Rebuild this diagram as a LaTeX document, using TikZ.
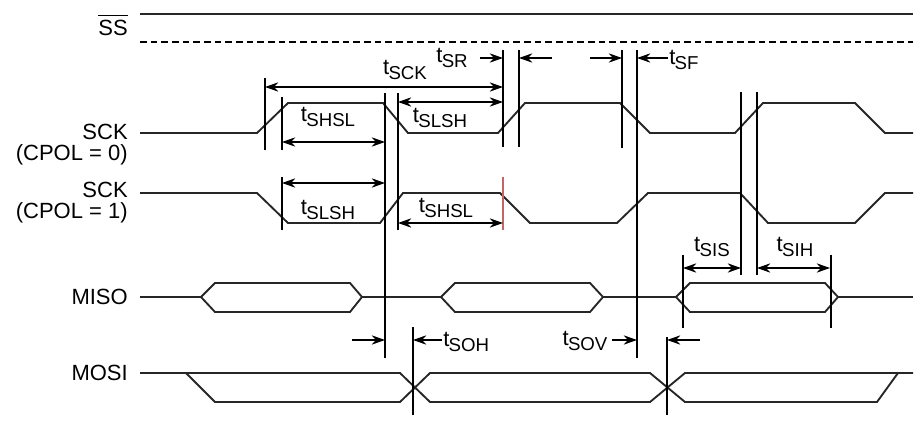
\documentclass[tikz,border=0pt]{standalone}
\usepackage{fontspec}
\setmainfont{Liberation Sans}
\usetikzlibrary{arrows.meta}
\newcommand\tsb[1]{t\kern-0.5pt\raisebox{-0.45ex}{\fontsize{14}{15}\selectfont #1}}
\begin{document}
\begin{tikzpicture}[x=0.75pt,y=-0.75pt,
  sig/.style={line width=1.4pt,color=black!85},
  vl/.style={line width=0.8pt},
  dim/.style={line width=0.9pt,{Stealth[length=10pt,width=7pt]}-{Stealth[length=10pt,width=7pt]}},
  ar/.style={line width=0.9pt,-{Stealth[length=10pt,width=7pt]}},
  lab/.style={font=\fontsize{16.5}{19}\selectfont,inner sep=0pt},
  rl/.style={lab,anchor=east,align=right}]
\useasboundingbox (0,0) rectangle (918,424);
% labels
\node[rl] (ss) at (128,28) {SS};
\draw[line width=0.8pt] ([yshift=3]ss.north west) -- ([yshift=3]ss.north east);
\node[rl] (sck0) at (128,132) {SCK};
\node[rl] (cp0) at (128,155) {(CPOL = 0)};
\node[rl] (sck1) at (128,190) {SCK};
\node[rl] (cp1) at (128,213) {(CPOL = 1)};
\node[rl] (miso) at (128,297) {MISO};
\node[rl] (mosi) at (128,373) {MOSI};
% SS
\draw[sig] (140,14) -- (913,14);
\draw[line width=1.4pt,dash pattern=on 5pt off 3pt] (140,42) -- (913,42);
% SCK0
\draw[sig] (140,133) -- (257,133) -- (288,103) -- (383,103) -- (408,133) -- (498,133) -- (525,103) -- (620,103) -- (650,133) -- (735,133) -- (763,103) -- (855,103) -- (885,133) -- (913,133);
% SCK1
\draw[sig] (140,193) -- (257,193) -- (288,223) -- (380,223) -- (403,193) -- (500,193) -- (530,223) -- (617,223) -- (648,193) -- (740,193) -- (768,223) -- (855,223) -- (885,193) -- (913,193);
% MISO
\draw[sig] (140,297) -- (201,297) (362,297) -- (441,297) (603,297) -- (676,297) (838,297) -- (913,297);
\foreach \a/\b/\c/\d in {201/215/350/362,441/455/590/603,676/690/825/838}
  \draw[sig] (\a,297) -- (\b,283) -- (\c,283) -- (\d,297) -- (\c,312) -- (\b,312) -- cycle;
% MOSI
\draw[sig] (140,373) -- (400,373) -- (430,402) -- (650,402) -- (685,373) -- (913,373);
\draw[sig] (186,373) -- (215,402) -- (400,402) -- (430,373) -- (650,373) -- (685,402) -- (877,402) -- (898,373);
% verticals
\draw[vl] (265,78) -- (265,150);
\draw[vl] (282,97) -- (282,150) (282,177) -- (282,230);
\draw[vl] (385,93) -- (385,358);
\draw[vl] (398,93) -- (398,230);
\draw[vl] (503,50) -- (503,147);
\draw[vl,red!60!black!60] (503,177) -- (503,230);
\draw[vl] (519,50) -- (519,147);
\draw[vl] (622,50) -- (622,148);
\draw[vl] (637,50) -- (637,358);
\draw[vl] (741,92) -- (741,275);
\draw[vl] (757,92) -- (757,275);
\draw[vl] (683,255) -- (683,328);
\draw[vl] (831,255) -- (831,328);
\draw[vl] (413,327) -- (413,415);
\draw[vl] (667,337) -- (667,415);
% dimensions
\draw[dim] (265,87) -- (503,87);
\node[lab] (tsck) at (405,70) {\tsb{SCK}};
\node[lab] (tsr) at (452,58) {\tsb{SR}};
\draw[ar] (480,58) -- (503,58);
\draw[dim] (398,102) -- (503,102);
\node[lab] (tslsh0) at (440,118) {\tsb{SLSH}};
\node[lab] (tshsl0) at (328,117) {\tsb{SHSL}};
\draw[dim] (282,142) -- (385,142);
\draw[dim] (282,183) -- (385,183);
\node[lab] (tslsh1) at (328,210) {\tsb{SLSH}};
\draw[dim] (398,223) -- (503,223);
\node[lab] (tshsl1) at (446,208) {\tsb{SHSL}};
\draw[ar] (552,58) -- (519,58);
\draw[ar] (590,58) -- (622,58);
\draw[ar] (668,58) -- (637,58);
\node[lab,anchor=west] (tsf) at (669,60) {\tsb{SF}};
\draw[dim] (683,268) -- (741,268);
\node[lab] (tsis) at (712,247) {\tsb{SIS}};
\draw[dim] (757,268) -- (830,268);
\node[lab] (tsih) at (795,247) {\tsb{SIH}};
\draw[ar] (352,340) -- (385,340);
\draw[ar] (442,340) -- (413,340);
\node[lab,anchor=west] (tsoh) at (443,342) {\tsb{SOH}};
\node[lab] (tsov) at (585,341) {\tsb{SOV}};
\draw[ar] (612,340) -- (637,340);
\draw[ar] (700,340) -- (667,340);
\end{tikzpicture}
\end{document}
